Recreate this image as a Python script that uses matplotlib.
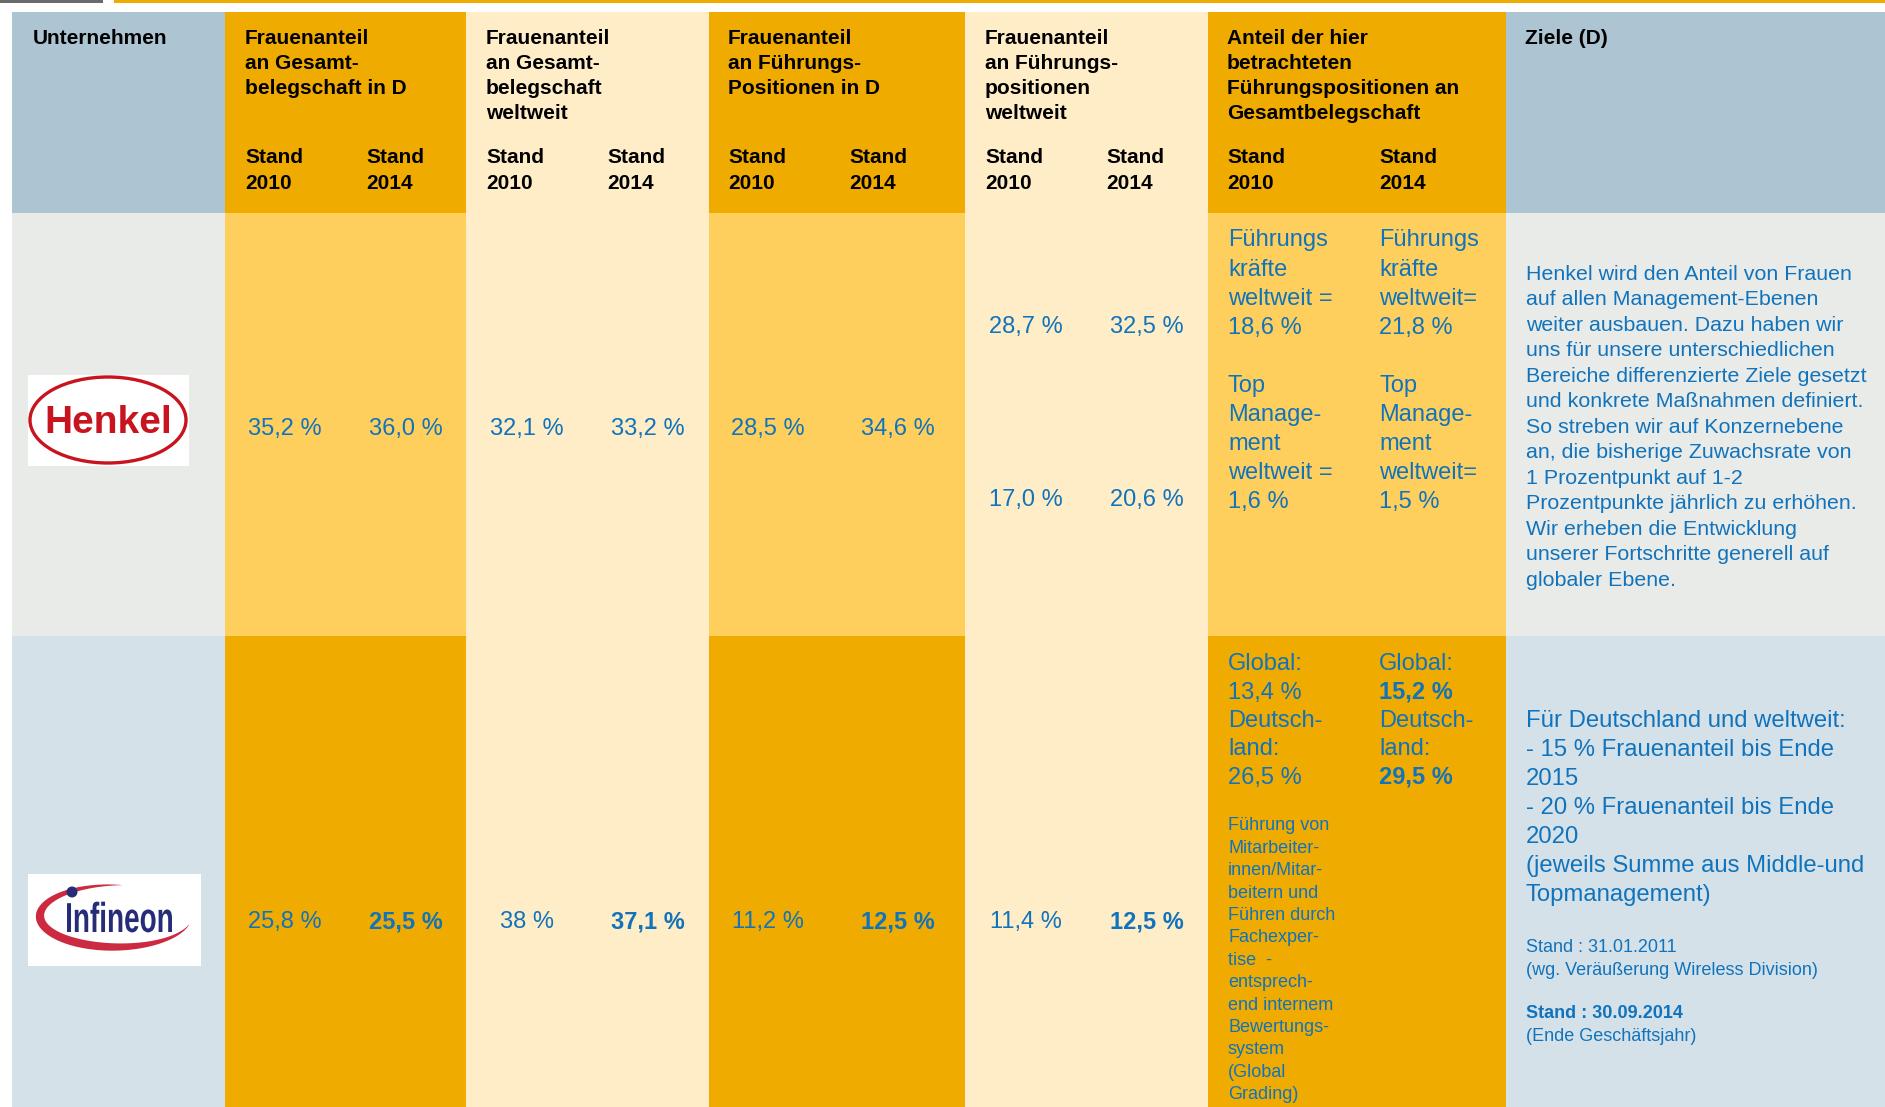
import matplotlib
matplotlib.use("Agg")
import matplotlib.pyplot as plt
import numpy as np
from matplotlib.patches import Rectangle, Ellipse, Polygon, Circle, PathPatch
from matplotlib.textpath import TextPath
from matplotlib.font_manager import FontProperties
from matplotlib.transforms import Affine2D

plt.rcParams['font.family'] = ['Liberation Sans', 'DejaVu Sans']

# ---- data ----
companies = ["Henkel", "Infineon"]
header_titles = [
    "Frauenanteil\nan Gesamt-\nbelegschaft in D",
    "Frauenanteil\nan Gesamt-\nbelegschaft\nweltweit",
    "Frauenanteil\nan Führungs-\nPositionen in D",
    "Frauenanteil\nan Führungs-\npositionen\nweltweit",
    "Anteil der hier\nbetrachteten\nFührungspositionen an\nGesamtbelegschaft",
]
years = ["Stand\n2010", "Stand\n2014"]

gesamt_d_2010 = ["35,2 %", "25,8 %"]
gesamt_d_2014 = ["36,0 %", "25,5 %"]
gesamt_welt_2010 = ["32,1 %", "38 %"]
gesamt_welt_2014 = ["33,2 %", "37,1 %"]
fuehr_d_2010 = ["28,5 %", "11,2 %"]
fuehr_d_2014 = ["34,6 %", "12,5 %"]
fuehr_welt_henkel_2010 = ["28,7 %", "17,0 %"]
fuehr_welt_henkel_2014 = ["32,5 %", "20,6 %"]
fuehr_welt_infineon = ["11,4 %", "12,5 %"]
bold_2014 = [False, True]   # Infineon 2014 values are bold

anteil_henkel_2010 = ["Führungs", "kräfte", "weltweit =", "18,6 %", "",
                      "Top", "Manage-", "ment", "weltweit =", "1,6 %"]
anteil_henkel_2014 = ["Führungs", "kräfte", "weltweit=", "21,8 %", "",
                      "Top", "Manage-", "ment", "weltweit=", "1,5 %"]
anteil_infineon_2010 = [("Global:", False), ("13,4 %", False), ("Deutsch-", False),
                        ("land:", False), ("26,5 %", False)]
anteil_infineon_2014 = [("Global:", False), ("15,2 %", True), ("Deutsch-", False),
                        ("land:", False), ("29,5 %", True)]
anteil_infineon_note = ["Führung von", "Mitarbeiter-", "innen/Mitar-", "beitern und",
                        "Führen durch", "Fachexper-", "tise  -", "entsprech-",
                        "end internem", "Bewertungs-", "system", "(Global", "Grading)"]

ziele_henkel = ["Henkel wird den Anteil von Frauen", "auf allen Management-Ebenen",
                "weiter ausbauen. Dazu haben wir", "uns für unsere unterschiedlichen",
                "Bereiche differenzierte Ziele gesetzt", "und konkrete Maßnahmen definiert.",
                "So streben wir auf Konzernebene", "an, die bisherige Zuwachsrate von",
                "1 Prozentpunkt auf 1-2", "Prozentpunkte jährlich zu erhöhen.",
                "Wir erheben die Entwicklung", "unserer Fortschritte generell auf",
                "globaler Ebene."]
ziele_infineon = ["Für Deutschland und weltweit:", "- 15 % Frauenanteil bis Ende", "2015",
                  "- 20 % Frauenanteil bis Ende", "2020", "(jeweils Summe aus Middle-und",
                  "Topmanagement)"]
ziele_infineon_stand = [("Stand : 31.01.2011", False), ("(wg. Veräußerung Wireless Division)", False),
                        ("Stand : 30.09.2014", True), ("(Ende Geschäftsjahr)", False)]

# ---- colours ----
HDR = "#adc4d2"
ORANGE = "#f0ab00"
LORANGE = "#ffcf5e"
CREAM = "#ffedc8"
GRAY = "#e9ebe9"
LBLUE = "#d5e1e9"
BLUE = "#1173bb"

col_edges = [12, 225, 466, 709, 965, 1208, 1506, 1885]
row_edges = [12, 213, 636, 1107]
fills = [
    [HDR, ORANGE, CREAM, ORANGE, CREAM, ORANGE, HDR],
    [GRAY, LORANGE, CREAM, LORANGE, CREAM, LORANGE, GRAY],
    [LBLUE, ORANGE, CREAM, ORANGE, CREAM, ORANGE, LBLUE],
]

fig = plt.figure(figsize=(18.85, 11.07), dpi=100)
ax = fig.add_axes([0, 0, 1, 1])
ax.set_xlim(0, 1885)
ax.set_ylim(1107, 0)
ax.axis('off')

# top rule
ax.add_patch(Rectangle((0, 0), 103, 3, color="#6a6a6a", lw=0))
ax.add_patch(Rectangle((114, 0), 1885 - 114, 3, color=ORANGE, lw=0))

for r in range(3):
    for c in range(7):
        ax.add_patch(Rectangle((col_edges[c], row_edges[r]),
                               col_edges[c + 1] - col_edges[c],
                               row_edges[r + 1] - row_edges[r],
                               color=fills[r][c], lw=0))


def put(x, yc, s, size, bold=False, color=BLUE, ha='left'):
    px = size * 100 / 72
    ax.text(x, yc + 0.358 * px, s, fontsize=size, color=color, ha=ha, va='baseline',
            fontweight='bold' if bold else 'normal')


def lines(x, y0, step, items, size, color=BLUE):
    for i, it in enumerate(items):
        if isinstance(it, tuple):
            s, b = it
        else:
            s, b = it, False
        if s:
            put(x, y0 + i * step, s, size, bold=b, color=color)


# header
put(33, 37, "Unternehmen", 15, bold=True, color="black")
put(1525, 37, "Ziele (D)", 15, bold=True, color="black")
sub_x = [(245, 366), (486, 607), (728, 849), (985, 1106), (1227, 1379)]
for i, title in enumerate(header_titles):
    lines(sub_x[i][0], 37, 25, title.split("\n"), 15, color="black")
    for j in range(2):
        for k, s in enumerate(years[j].split("\n")):
            put(sub_x[i][j], 156 + k * 26, s, 15, bold=True, color="black")
# header titles bold: redraw over (bold)
for t in ax.texts:
    t.set_fontweight('bold')

# value columns (centres of sub-columns)
val_x = [(285, 406), (527, 648), (768, 898)]
row_y = [427, 920]
for i, (v10, v14) in enumerate([(gesamt_d_2010, gesamt_d_2014),
                                 (gesamt_welt_2010, gesamt_welt_2014),
                                 (fuehr_d_2010, fuehr_d_2014)]):
    for r in range(2):
        put(val_x[i][0], row_y[r], v10[r], 17, ha='center')
        put(val_x[i][1], row_y[r], v14[r], 17, bold=bold_2014[r], ha='center')

# Führungspositionen weltweit
for k, yy in enumerate([325, 498]):
    put(1026, yy, fuehr_welt_henkel_2010[k], 17, ha='center')
    put(1147, yy, fuehr_welt_henkel_2014[k], 17, ha='center')
put(1026, 920, fuehr_welt_infineon[0], 17, ha='center')
put(1147, 920, fuehr_welt_infineon[1], 17, bold=True, ha='center')

# Anteil column
lines(1228, 238, 29.1, anteil_henkel_2010, 17)
lines(1379, 238, 29.1, anteil_henkel_2014, 17)
lines(1228, 662, 28.3, anteil_infineon_2010, 17)
lines(1379, 662, 28.3, anteil_infineon_2014, 17)
lines(1228, 824, 22.4, anteil_infineon_note, 13)

# Ziele
lines(1526, 272, 25.5, ziele_henkel, 15.4)
lines(1526, 718, 29, ziele_infineon, 17.2)
lines(1526, 946, 22.5, ziele_infineon_stand[:2], 13)
lines(1526, 1012, 22.5, ziele_infineon_stand[2:], 13)

# Henkel logo
ax.add_patch(Rectangle((28, 375), 161, 91, color="white", lw=0))
ax.add_patch(Ellipse((108, 420), 156, 86, fill=False, edgecolor="#c8141e", lw=2.4))
ax.text(108, 433, companies[0], fontsize=28, fontweight='bold', color="#c8141e",
        ha='center', va='baseline')

# Infineon logo
ax.add_patch(Rectangle((28, 874), 173, 92, color="white", lw=0))
t = np.linspace(np.radians(85), np.radians(345), 120)
w = 9 * np.sin(np.pi * (t - t[0]) / (t[-1] - t[0])) ** 0.9
cx, cy, a, b = 116, 916, 76, 31
outer = np.column_stack([cx + (a + w / 2) * np.cos(t), cy - (b + w / 2) * np.sin(t)])
inner = np.column_stack([cx + (a - w / 2) * np.cos(t), cy - (b - w / 2) * np.sin(t)])
ax.add_patch(Polygon(np.vstack([outer, inner[::-1]]), closed=True, color="#cc2a40", lw=0))
fp = FontProperties(family='Liberation Sans', weight='bold')
tp = TextPath((0, 0), companies[1], size=1, prop=fp)
ext = tp.get_extents()
sx = 105 / ext.width
sy = 30 / 0.716
tp = tp.transformed(Affine2D().translate(-ext.x0, 0).scale(sx, -sy).translate(67, 932))
ax.add_patch(PathPatch(tp, color="#262c78", lw=0))
ax.add_patch(Circle((72, 892), 5.5, color="#262c78", lw=0))

fig.savefig("out.png", dpi=100)
